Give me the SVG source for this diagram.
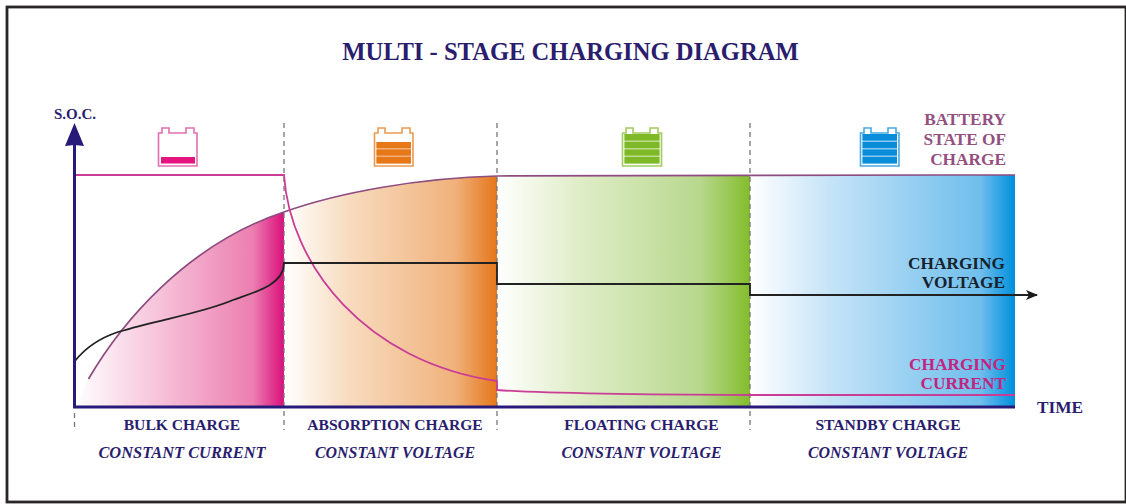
<svg xmlns="http://www.w3.org/2000/svg" width="1126" height="504" viewBox="0 0 1126 504">
<style>
text{font-family:"Liberation Serif","Noto Serif",serif;font-weight:700}
.n{fill:#2a1d6e}
.l{font-size:15.6px;text-anchor:middle}
.i{font-size:15.9px;font-style:italic;text-anchor:middle}
.s{font-size:17.3px;text-anchor:end}
.d{fill:none;stroke:#777;stroke-width:1.3;stroke-dasharray:5 4}
.c{fill:none}
</style>
<defs>
<linearGradient id="gp"><stop offset="0" stop-color="#fff"/><stop offset=".4" stop-color="#f6c3da"/><stop offset=".85" stop-color="#ec7fb0"/><stop offset="1" stop-color="#db0f7c"/></linearGradient>
<linearGradient id="go"><stop offset="0" stop-color="#fff"/><stop offset=".3" stop-color="#f8dcc0"/><stop offset=".8" stop-color="#f0b27c"/><stop offset="1" stop-color="#e5761a"/></linearGradient>
<linearGradient id="gg"><stop offset="0" stop-color="#fff"/><stop offset=".3" stop-color="#e2eecb"/><stop offset=".8" stop-color="#b8d88e"/><stop offset="1" stop-color="#84bd2c"/></linearGradient>
<linearGradient id="gb"><stop offset="0" stop-color="#fff"/><stop offset=".3" stop-color="#c6e4f7"/><stop offset=".87" stop-color="#6fbeec"/><stop offset=".93" stop-color="#3aa8e6"/><stop offset="1" stop-color="#0090dc"/></linearGradient>
<marker id="ah" markerWidth="12" markerHeight="10" refX="11" refY="5" orient="auto" markerUnits="userSpaceOnUse"><path d="M0 0L12 5L0 10L3 5Z" fill="#1a1a1a"/></marker>
</defs>
<rect x="7" y="7" width="1119" height="495" fill="#fff" stroke="#2a2626" stroke-width="2.8"/>
<text x="570.500" y="60" text-anchor="middle" font-size="24.600" class="n">MULTI - STAGE CHARGING DIAGRAM</text>

<g id="area-bulk"><path d="M75 406L88.500 379C120 325 185 245 284 212V406Z" fill="url(#gp)"/></g>
<g id="area-absorption"><path d="M284 212C340 192 420 178 497 176V406H284Z" fill="url(#go)"/></g>
<g id="area-floating"><rect x="497" y="175" width="253" height="231" fill="url(#gg)"/></g>
<g id="area-standby"><rect x="750" y="175" width="265" height="231" fill="url(#gb)"/></g>

<g id="connectors">
<path class="d" d="M284 123V430M497 123V430M750 123V430M74.500 413V430"/>
<path class="c" stroke="#8d4b80" stroke-width="1.700" d="M88.500 379C120 325 185 245 284 212C340 192 420 178 497 176C560 174.500 800 175 1015 175"/>
<path class="c" stroke="#c93d96" stroke-width="1.800" d="M75 175H284C290 265 365 362 497 381V390C540 393 600 394.500 750 395H1015"/>
<path class="c" stroke="#222" stroke-width="1.800" d="M75 361C86 347 100 338 118 332C160 319 200 314 233 300C255 292 284 285 284 263H497V284H750V295H1037" marker-end="url(#ah)"/>
<path d="M74.500 145V407H1015" class="c" stroke="#281a78" stroke-width="3"/>
<path d="M74.500 123L84 146L74.500 145L65 146Z" fill="#281a78"/>
</g>

<g id="battery-bulk">
<path d="M158.500 166V133H162V128H169V133H186V128H194V133H197V166Z" fill="#fff" stroke="#e270ae" stroke-width="1.600"/>
<rect x="161" y="157" width="34" height="6.500" fill="#e4147f"/>
</g>
<g id="battery-absorption">
<path d="M374.500 166V133H378V128H385V133H402V128H410V133H413V166Z" fill="#fff" stroke="#eb9a50" stroke-width="1.600"/>
<rect x="376.500" y="142" width="34.500" height="21.500" fill="#f0b078"/>
<path d="M376.500 142h34.500v6h-34.500zM376.500 149.500h34.500v6h-34.500zM376.500 157h34.500v6.500h-34.500z" fill="#e67817"/>
</g>
<g id="battery-floating">
<path d="M622.500 166V133H626V128H633V133H650V128H658V133H661.500V166Z" fill="#fff" stroke="#a2cc5c" stroke-width="1.600"/>
<rect x="624.500" y="134" width="35" height="29.500" fill="#bcdc90"/>
<path d="M624.500 134h35v6.500h-35zM624.500 142h35v6h-35zM624.500 149.500h35v6h-35zM624.500 157h35v6.500h-35z" fill="#7fb928"/>
</g>
<g id="battery-standby">
<path d="M860.500 166V133H864V128H871V133H888V128H896V133H899V166Z" fill="#fff" stroke="#45aae5" stroke-width="1.600"/>
<rect x="862.500" y="134" width="34.500" height="29.500" fill="#86c8ee"/>
<path d="M862.500 134h34.500v6.500h-34.500zM862.500 142h34.500v6h-34.500zM862.500 149.500h34.500v6h-34.500zM862.500 157h34.500v6.500h-34.500z" fill="#0a8dd8"/>
</g>

<text x="75" y="119" text-anchor="middle" font-size="15" class="n">S.O.C.</text>
<g fill="#93507f" class="s"><text x="1006" y="125">BATTERY</text><text x="1006" y="145">STATE OF</text><text x="1006" y="165">CHARGE</text></g>
<g fill="#16222e" class="s"><text x="1005" y="269">CHARGING</text><text x="1005" y="288">VOLTAGE</text></g>
<g fill="#c2247f" class="s"><text x="1006" y="370">CHARGING</text><text x="1006" y="389">CURRENT</text></g>
<text x="1060" y="413" text-anchor="middle" font-size="17.300" class="n">TIME</text>
<g class="n">
<text class="l" x="182" y="430">BULK CHARGE</text><text class="i" x="182" y="458" style="font-size:16.400px">CONSTANT CURRENT</text>
<text class="l" x="395" y="430">ABSORPTION CHARGE</text><text class="i" x="395" y="458">CONSTANT VOLTAGE</text>
<text class="l" x="641.500" y="430">FLOATING CHARGE</text><text class="i" x="641.500" y="458">CONSTANT VOLTAGE</text>
<text class="l" x="888" y="430">STANDBY CHARGE</text><text class="i" x="888" y="458">CONSTANT VOLTAGE</text>
</g>
</svg>
